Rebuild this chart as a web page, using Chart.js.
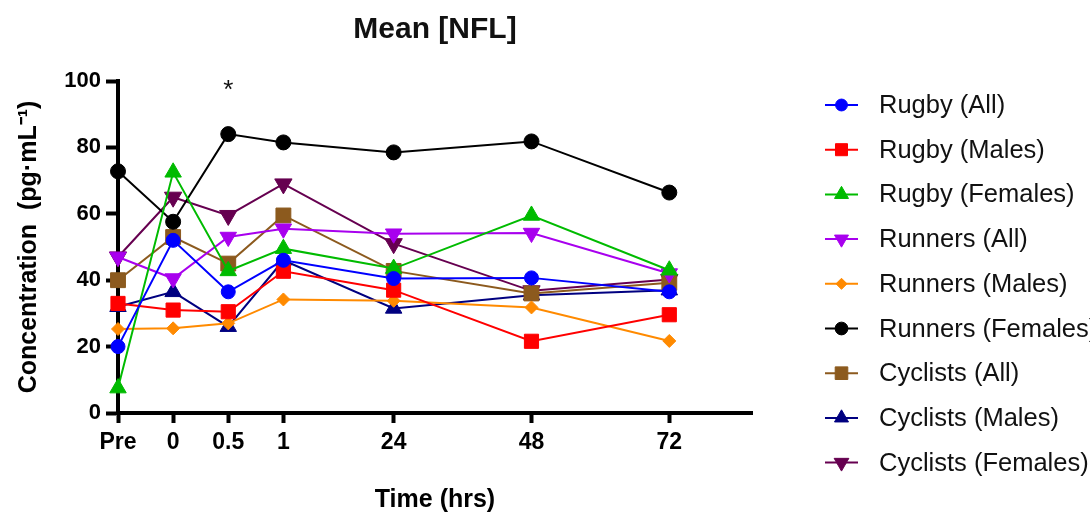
<!DOCTYPE html>
<html>
<head>
<meta charset="utf-8">
<script src="https://cdn.jsdelivr.net/npm/chart.js@4.4.1/dist/chart.umd.min.js"></script>
<style>
html,body{margin:0;padding:0;background:#fff;overflow:hidden}
#wrap{width:1090px;height:519px;position:relative}
</style>
</head>
<body>
<div id="wrap"><canvas id="c" width="1090" height="519"></canvas></div>
<script>
// ---- data ----
const timeLabels = ['Pre', '0', '0.5', '1', '24', '48', '72'];
const timePositions = [0, 2, 4, 6, 10, 15, 20];   // place of each time point on the (piecewise) time axis
const seriesNames = ['Rugby (All)', 'Rugby (Males)', 'Rugby (Females)', 'Runners (All)', 'Runners (Males)',
  'Runners (Females)', 'Cyclists (All)', 'Cyclists (Males)', 'Cyclists (Females)'];
const rugbyAll        = [20, 52, 36.5, 46, 40.5, 40.7, 36.5];
const rugbyMales      = [33, 31, 30.5, 42.7, 37, 21.6, 29.6];
const rugbyFemales    = [7.5, 72.5, 42.8, 49.5, 43.5, 59.5, 43];
const runnersAll      = [47, 40.5, 53, 55.5, 54, 54.2, 42];
const runnersMales    = [25.3, 25.5, 27, 34.2, 33.8, 31.8, 21.7];
const runnersFemales  = [72.8, 57.6, 84, 81.5, 78.5, 81.8, 66.4];
const cyclistsAll     = [40, 53, 45, 59.5, 42.8, 36, 39.2];
const cyclistsMales   = [32, 36.5, 26, 46, 31.5, 35.5, 37];
const cyclistsFemales = [47, 65, 59.5, 69, 51, 36.8, 40.2];
const yTicks = [0, 20, 40, 60, 80, 100];
const sigIndex = [2];      // time point marked significant
const sigMark = '*';
const sigLevel = 97;       // height of the mark in axis units

// ---- styles ----
const seriesValues = [rugbyAll, rugbyMales, rugbyFemales, runnersAll, runnersMales,
  runnersFemales, cyclistsAll, cyclistsMales, cyclistsFemales];
const styles = [
  {c:'#0000FF', s:'circle',   r:7,   rot:0},
  {c:'#FF0000', s:'rect',     r:10,  rot:0},
  {c:'#00BB00', s:'triangle', r:9.5, rot:0},
  {c:'#A800EE', s:'triangle', r:9.5, rot:180},
  {c:'#FF8A00', s:'rectRot',  r:6.5, rot:0},
  {c:'#000000', s:'circle',   r:7.5, rot:0},
  {c:'#8C5A1E', s:'rect',     r:10.5,rot:0},
  {c:'#000080', s:'triangle', r:9.5, rot:0},
  {c:'#660050', s:'triangle', r:10,  rot:180}
];

const datasets = seriesNames.map((name, i) => ({
  label: name,
  data: seriesValues[i].map((v, j) => ({x: timePositions[j], y: v})),
  borderColor: styles[i].c,
  backgroundColor: styles[i].c,
  pointBackgroundColor: styles[i].c,
  pointBorderColor: styles[i].c,
  pointBorderWidth: 1,
  pointStyle: styles[i].s,
  pointRotation: styles[i].rot,
  pointRadius: styles[i].r,
  pointHoverRadius: styles[i].r,
  borderWidth: 2,
  tension: 0,
  fill: false,
  clip: false
}));

function marker(ctx, style, radius, rot, x, y) {
  ctx.beginPath();
  if (style === 'circle') {
    ctx.arc(x, y, radius, 0, Math.PI * 2);
  } else if (style === 'rect') {
    const s = radius * Math.SQRT1_2;
    ctx.rect(x - s, y - s, 2 * s, 2 * s);
  } else if (style === 'rectRot') {
    ctx.moveTo(x, y - radius); ctx.lineTo(x + radius, y);
    ctx.lineTo(x, y + radius); ctx.lineTo(x - radius, y); ctx.closePath();
  } else if (style === 'triangle') {
    let a = rot * Math.PI / 180;
    for (let k = 0; k < 3; k++) {
      const px = x + Math.sin(a) * radius, py = y - Math.cos(a) * radius;
      if (k === 0) ctx.moveTo(px, py); else ctx.lineTo(px, py);
      a += 2 * Math.PI / 3;
    }
    ctx.closePath();
  }
  ctx.fill();
  ctx.stroke();
}

const sidePlugin = {
  id: 'sideLegend',
  afterDraw(chart) {
    const ctx = chart.ctx, ca = chart.chartArea;
    const xs = chart.scales.x, ys = chart.scales.y;
    ctx.save();
    // significance mark
    ctx.fillStyle = '#111';
    ctx.font = '26px "Liberation Sans", Arial, sans-serif';
    ctx.textAlign = 'center';
    ctx.textBaseline = 'middle';
    sigIndex.forEach(j => ctx.fillText(sigMark, xs.getPixelForValue(timePositions[j]), ys.getPixelForValue(sigLevel)));
    // legend
    const x0 = ca.right + 73, x1 = ca.right + 106, xm = (x0 + x1) / 2, tx = ca.right + 127;
    chart.data.datasets.forEach((ds, i) => {
      const y = ca.top + 24 + i * 44.7;
      ctx.strokeStyle = ds.borderColor;
      ctx.lineWidth = 2;
      ctx.beginPath(); ctx.moveTo(x0, y); ctx.lineTo(x1, y); ctx.stroke();
      ctx.fillStyle = ds.borderColor;
      ctx.lineWidth = 1;
      marker(ctx, ds.pointStyle, ds.pointRadius * 0.85, ds.pointRotation, xm, y);
      ctx.fillStyle = '#111';
      ctx.font = '25.5px "Liberation Sans", Arial, sans-serif';
      ctx.textAlign = 'left';
      ctx.textBaseline = 'middle';
      ctx.fillText(ds.label, tx, y + 1);
    });
    ctx.restore();
  }
};

new Chart(document.getElementById('c'), {
  type: 'line',
  data: { datasets },
  options: {
    responsive: false,
    animation: false,
    events: [],
    layout: { padding: { left: 0, right: 338, top: 0, bottom: 0 } },
    plugins: {
      legend: { display: false },
      tooltip: { enabled: false },
      title: {
        display: true,
        fullSize: false,
        text: 'Mean [NFL]',
        color: '#111',
        font: { family: '"Liberation Sans", Arial, sans-serif', size: 30, weight: 'bold' },
        padding: { top: 12, bottom: 33 }
      }
    },
    scales: {
      x: {
        type: 'linear',
        min: 0,
        max: 23,
        afterFit: (s) => { s.height = 106; },
        afterBuildTicks: (s) => { s.ticks = timePositions.map(v => ({ value: v })); },
        ticks: {
          autoSkip: false,
          maxRotation: 0,
          padding: 6,
          color: '#000',
          font: { family: '"Liberation Sans", Arial, sans-serif', size: 23, weight: 'bold' },
          callback: (v) => { const k = timePositions.indexOf(v); return k >= 0 ? timeLabels[k] : ''; }
        },
        grid: { drawOnChartArea: false, drawTicks: true, tickLength: 10, tickWidth: 4, tickColor: '#000', color: '#000' },
        border: { display: true, color: '#000', width: 4 },
        title: {
          display: true,
          text: 'Time (hrs)',
          color: '#000',
          font: { family: '"Liberation Sans", Arial, sans-serif', size: 25, weight: 'bold' },
          padding: { top: 0, bottom: 4 }
        }
      },
      y: {
        min: 0,
        max: 100,
        afterFit: (s) => { s.width = 118; },
        afterBuildTicks: (s) => { s.ticks = yTicks.map(v => ({ value: v })); },
        ticks: {
          padding: 5,
          color: '#000',
          font: { family: '"Liberation Sans", Arial, sans-serif', size: 22, weight: 'bold' }
        },
        grid: { drawOnChartArea: false, drawTicks: true, tickLength: 12, tickWidth: 4, tickColor: '#000', color: '#000' },
        border: { display: true, color: '#000', width: 4 },
        title: {
          display: true,
          text: 'Concentration  (pg·mL⁻¹)',
          color: '#000',
          font: { family: '"Liberation Sans", Arial, sans-serif', size: 25, weight: 'bold' },
          padding: { top: 14, bottom: 0 }
        }
      }
    }
  },
  plugins: [sidePlugin]
});
</script>
</body>
</html>
